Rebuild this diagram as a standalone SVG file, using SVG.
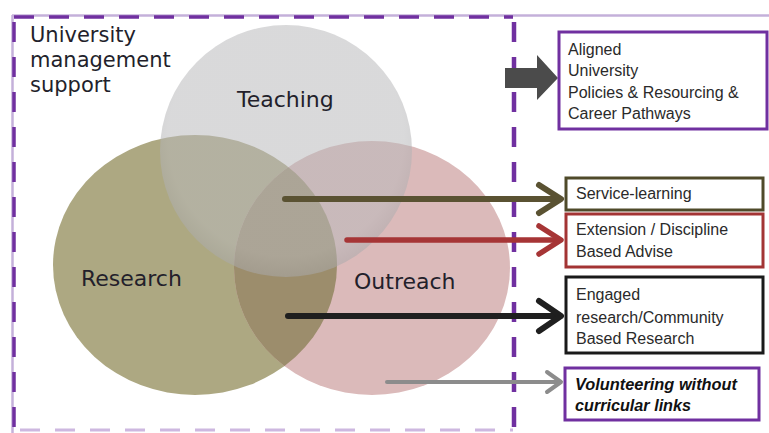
<svg xmlns="http://www.w3.org/2000/svg" width="769" height="433" viewBox="0 0 769 433">
<style>
.lbl{font-family:"DejaVu Sans",Verdana,sans-serif;fill:#231f2b}
.big{font-size:22px}
.bx{font-family:"Liberation Sans",Arial,sans-serif;font-size:16px;fill:#2a2a2a}
.bi{font-weight:bold;font-style:italic;fill:#111}
.box{fill:#fff;stroke-width:3}
.conn{fill:none;stroke-linecap:round;stroke-linejoin:round}
</style>
<defs>
<clipPath id="clipR"><ellipse cx="195" cy="265" rx="142" ry="130"/></clipPath>
<radialGradient id="gT" cx="0.5" cy="0.45" r="0.55">
<stop offset="0.85" stop-color="#b9b9bb"/>
<stop offset="1" stop-color="#a9a9ab"/>
</radialGradient>
</defs>
<rect width="769" height="433" fill="#fff"/>
<g id="frame">
<line x1="12" y1="15.5" x2="769" y2="15.5" stroke="#c4b0da" stroke-width="2.5"/>
<line x1="12.5" y1="15" x2="12.5" y2="433" stroke="#c4b0da" stroke-width="2.5"/>
<line x1="14" y1="17" x2="513" y2="17" stroke="#7030a0" stroke-width="3.5" stroke-dasharray="20 15"/>
<line x1="14" y1="22" x2="14" y2="433" stroke="#7030a0" stroke-width="3.5" stroke-dasharray="20 15"/>
<line x1="514" y1="22" x2="514" y2="433" stroke="#7030a0" stroke-width="4.5" stroke-dasharray="20 15"/>
<line x1="20" y1="430" x2="513" y2="430" stroke="#cdb8e0" stroke-width="3" stroke-dasharray="20 15"/>
</g>
<text class="lbl" font-size="21" x="30" y="42">University</text>
<text class="lbl" font-size="21" x="30" y="67">management</text>
<text class="lbl" font-size="21" x="30" y="92">support</text>
<g id="research">
<ellipse cx="195" cy="265" rx="142" ry="130" fill="#ada882"/>
</g>
<g id="outreach">
<ellipse cx="372" cy="268" rx="138" ry="127" fill="#dbbaba"/>
<ellipse cx="372" cy="268" rx="138" ry="127" fill="#9c8d6c" clip-path="url(#clipR)"/>
</g>
<g id="teaching">
<circle cx="286" cy="151" r="126" fill="url(#gT)" opacity="0.54"/>
</g>
<text class="lbl big" x="237" y="107">Teaching</text>
<text class="lbl big" x="81" y="286">Research</text>
<text class="lbl big" x="354" y="289">Outreach</text>
<g id="connectors">
<polygon points="505,68 537,68 537,55 558,78 537,100 537,88 505,88" fill="#4b4b4b"/>
<g class="conn" stroke="#5a5232" stroke-width="6">
<line x1="285" y1="199" x2="558" y2="199"/>
<polyline points="539,185 561,199 539,213"/>
</g>
<g class="conn" stroke="#a63536" stroke-width="5.5">
<line x1="347" y1="240" x2="558" y2="240"/>
<polyline points="539,226 561,240 539,254"/>
</g>
<g class="conn" stroke="#1f1f1f" stroke-width="6">
<line x1="288" y1="316" x2="558" y2="316"/>
<polyline points="539,301 561,316 539,331"/>
</g>
<g class="conn" stroke="#8c8c8c" stroke-width="4">
<line x1="387" y1="382" x2="559" y2="382"/>
<polyline points="547,372 561,382 547,392"/>
</g>
</g>
<g id="aligned">
<rect class="box" x="559" y="32" width="208" height="97" stroke="#7030a0" stroke-width="2.5"/>
<text class="bx" x="568" y="55">Aligned</text>
<text class="bx" x="568" y="76">University</text>
<text class="bx" x="568" y="98">Policies &amp; Resourcing &amp;</text>
<text class="bx" x="568" y="119">Career Pathways</text>
</g>
<g id="service">
<rect class="box" x="566" y="178" width="197" height="32" stroke="#4f4a2a"/>
<text class="bx" x="576" y="199">Service-learning</text>
</g>
<g id="extension">
<rect class="box" x="566" y="214" width="197" height="53" stroke="#a33434" stroke-width="2.5"/>
<text class="bx" x="576" y="235">Extension / Discipline</text>
<text class="bx" x="576" y="257">Based Advise</text>
</g>
<g id="engaged">
<rect class="box" x="566" y="277" width="197" height="76" stroke="#1a1a1a" stroke-width="2.5"/>
<text class="bx" x="576" y="300">Engaged</text>
<text class="bx" x="576" y="323">research/Community</text>
<text class="bx" x="576" y="344">Based Research</text>
</g>
<g id="volunteering">
<rect class="box" x="565" y="368" width="194" height="52" stroke="#7030a0" stroke-width="2.5"/>
<text class="bx bi" x="575" y="390" textLength="162" lengthAdjust="spacingAndGlyphs">Volunteering without</text>
<text class="bx bi" x="575" y="411" textLength="116" lengthAdjust="spacingAndGlyphs">curricular links</text>
</g>
</svg>
